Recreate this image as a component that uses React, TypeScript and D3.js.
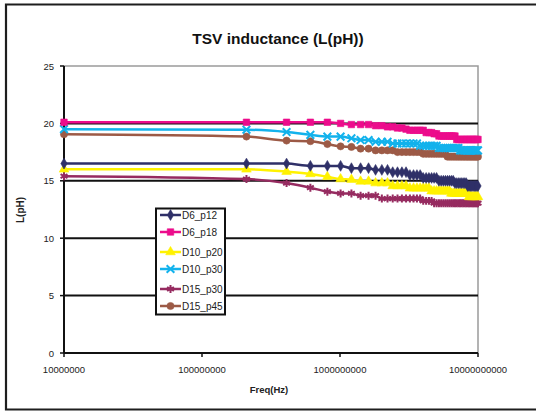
import React, { useEffect, useRef } from 'react';
import * as d3 from 'd3';

// sweep frequencies, MHz
const FREQ_MHZ = [
  10, 210, 410, 610, 810, 1010, 1210, 1410, 1610, 1810,
  2010, 2210, 2410, 2610, 2810, 3010, 3210, 3410, 3610, 3810,
  4010, 4210, 4410, 4610, 4810, 5010, 5210, 5410, 5610, 5810,
  6010, 6210, 6410, 6610, 6810, 7010, 7210, 7410, 7610, 7810,
  8010, 8210, 8410, 8610, 8810, 9010, 9210, 9410, 9610, 9810, 10000,
];

const D6_P12 = [
  16.5, 16.5, 16.5, 16.3, 16.3, 16.3, 16.1, 16.1, 16.1, 15.95,
  15.95, 15.95, 15.75, 15.75, 15.75, 15.75, 15.5, 15.5, 15.5, 15.5,
  15.25, 15.25, 15.25, 15.25, 15.25, 15.25, 15.0, 15.0, 15.0, 15.0,
  15.0, 15.0, 15.0, 15.0, 14.8, 14.8, 14.8, 14.8, 14.8, 14.8,
  14.8, 14.8, 14.55, 14.55, 14.55, 14.55, 14.55, 14.55, 14.55, 14.55, 14.55,
];

const D6_P18 = [
  20.1, 20.1, 20.1, 20.1, 20.1, 20.0, 19.9, 19.9, 19.9, 19.8,
  19.8, 19.7, 19.7, 19.6, 19.6, 19.5, 19.4, 19.4, 19.4, 19.4,
  19.4, 19.2, 19.2, 19.2, 19.1, 19.1, 18.9, 18.9, 18.9, 18.9,
  18.9, 18.9, 18.9, 18.9, 18.9, 18.6, 18.6, 18.6, 18.6, 18.6,
  18.6, 18.6, 18.6, 18.6, 18.6, 18.6, 18.6, 18.6, 18.6, 18.6, 18.6,
];

const D10_P20 = [
  16.0, 16.0, 15.8, 15.6, 15.35, 15.15, 15.1, 14.95, 14.95, 14.8,
  14.8, 14.8, 14.55, 14.55, 14.55, 14.55, 14.35, 14.35, 14.35, 14.35,
  14.35, 14.35, 14.35, 14.1, 14.1, 14.1, 14.1, 14.1, 14.1, 14.1,
  14.1, 14.1, 13.9, 13.9, 13.9, 13.9, 13.9, 13.9, 13.9, 13.9,
  13.9, 13.9, 13.9, 13.6, 13.6, 13.6, 13.6, 13.6, 13.6, 13.6, 13.6,
];

const D10_P30 = [
  19.5, 19.45, 19.25, 19.0, 18.85, 18.85, 18.7, 18.55, 18.55, 18.4,
  18.4, 18.4, 18.25, 18.25, 18.25, 18.25, 18.25, 18.25, 18.25, 18.05,
  18.05, 18.05, 18.05, 18.05, 18.05, 18.05, 17.85, 17.85, 17.85, 17.85,
  17.85, 17.85, 17.85, 17.85, 17.85, 17.85, 17.85, 17.65, 17.65, 17.65,
  17.65, 17.65, 17.65, 17.65, 17.65, 17.65, 17.65, 17.65, 17.65, 17.65, 17.65,
];

const D15_P30 = [
  15.4, 15.15, 14.8, 14.4, 14.05, 13.9, 13.9, 13.7, 13.7, 13.7,
  13.45, 13.45, 13.45, 13.45, 13.45, 13.45, 13.45, 13.45, 13.45, 13.45,
  13.25, 13.25, 13.25, 13.25, 13.05, 13.05, 13.05, 13.05, 13.05, 13.05,
  13.05, 13.05, 13.05, 13.05, 13.05, 13.05, 13.05, 13.05, 13.05, 13.05,
  13.05, 13.05, 13.05, 13.05, 13.05, 13.05, 13.05, 13.05, 13.05, 13.05, 13.05,
];

const D15_P45 = [
  19.05, 18.85, 18.5, 18.45, 18.2, 18.0, 17.95, 17.8, 17.8, 17.65,
  17.65, 17.65, 17.65, 17.5, 17.5, 17.5, 17.5, 17.5, 17.5, 17.5,
  17.35, 17.35, 17.35, 17.35, 17.35, 17.35, 17.35, 17.35, 17.35, 17.35,
  17.1, 17.1, 17.1, 17.1, 17.1, 17.1, 17.1, 17.1, 17.1, 17.1,
  17.1, 17.1, 17.1, 17.1, 17.1, 17.1, 17.1, 17.1, 17.1, 17.1, 17.1,
];

const SERIES = [
  { name: 'D6_p12', values: D6_P12, color: '#2f3068', symbol: d3.symbolDiamond, size: 34, stroke: false },
  { name: 'D6_p18', values: D6_P18, color: '#ec0c8c', symbol: d3.symbolSquare, size: 42, stroke: false },
  { name: 'D10_p20', values: D10_P20, color: '#fff200', symbol: d3.symbolTriangle, size: 40, stroke: false },
  { name: 'D10_p30', values: D10_P30, color: '#12b2ec', symbol: d3.symbolX, size: 40, stroke: true },
  { name: 'D15_p30', values: D15_P30, color: '#962b60', symbol: d3.symbolAsterisk, size: 44, stroke: true },
  { name: 'D15_p45', values: D15_P45, color: '#9c5a46', symbol: d3.symbolCircle, size: 40, stroke: false },
];

const Y_TICKS = [0, 5, 10, 15, 20, 25];
const X_TICKS = [1e7, 1e8, 1e9, 1e10];
const LEGEND_Y = [215, 232, 252, 269, 289, 306];

export default function App() {
  const ref = useRef<SVGSVGElement>(null);

  useEffect(() => {
    const svg = d3.select(ref.current);
    svg.selectAll('*').remove();

    const x = d3.scaleLog().domain([1e7, 1e10]).range([64, 478]);
    const y = d3.scaleLinear().domain([0, 25]).range([353, 66]);
    const font = 'Arial, "Liberation Sans", sans-serif';

    // outer frame (right side runs off the picture)
    svg.append('path')
      .attr('d', 'M600,4.5H6V409.5H600')
      .attr('fill', 'none')
      .attr('stroke', '#1e1e1e')
      .attr('stroke-width', 2.2);

    // title
    svg.append('text')
      .attr('x', 278).attr('y', 44)
      .attr('text-anchor', 'middle')
      .attr('font-family', font).attr('font-weight', 'bold').attr('font-size', '15.5px')
      .attr('fill', '#111')
      .text('TSV inductance (L(pH))');

    // plot frame, gray top + right
    svg.append('path')
      .attr('d', `M${x(1e7)},${y(25)}H${x(1e10)}V${y(0)}`)
      .attr('fill', 'none').attr('stroke', '#9a9a9a').attr('stroke-width', 1.5);

    // gridlines
    svg.append('g').selectAll('line')
      .data(Y_TICKS.filter(t => t > 0 && t < 25))
      .join('line')
      .attr('x1', x(1e7)).attr('x2', x(1e10))
      .attr('y1', d => y(d)).attr('y2', d => y(d))
      .attr('stroke', '#111').attr('stroke-width', 2);

    // axes lines
    svg.append('line')
      .attr('x1', x(1e7)).attr('x2', x(1e7)).attr('y1', y(25)).attr('y2', y(0))
      .attr('stroke', '#111').attr('stroke-width', 2);
    svg.append('line')
      .attr('x1', x(1e7)).attr('x2', x(1e10)).attr('y1', y(0)).attr('y2', y(0))
      .attr('stroke', '#111').attr('stroke-width', 2);

    // y ticks
    const yt = svg.append('g');
    yt.selectAll('line').data(Y_TICKS).join('line')
      .attr('x1', x(1e7) - 4).attr('x2', x(1e7))
      .attr('y1', d => y(d)).attr('y2', d => y(d))
      .attr('stroke', '#111').attr('stroke-width', 1.5);
    yt.selectAll('text').data(Y_TICKS).join('text')
      .attr('x', 54).attr('y', d => y(d) + 3.5)
      .attr('text-anchor', 'end')
      .attr('font-family', font).attr('font-size', '9.5px').attr('fill', '#222')
      .text(d => String(d));

    // x ticks
    const xt = svg.append('g');
    xt.selectAll('line').data(X_TICKS).join('line')
      .attr('x1', d => x(d)).attr('x2', d => x(d))
      .attr('y1', y(0)).attr('y2', y(0) + 4)
      .attr('stroke', '#111').attr('stroke-width', 1.5);
    xt.selectAll('text').data(X_TICKS).join('text')
      .attr('x', d => x(d)).attr('y', 373)
      .attr('text-anchor', 'middle')
      .attr('font-family', font).attr('font-size', '9.5px').attr('fill', '#222')
      .text(d => String(d));

    // axis titles
    svg.append('text')
      .attr('x', 269).attr('y', 393)
      .attr('text-anchor', 'middle')
      .attr('font-family', font).attr('font-weight', 'bold').attr('font-size', '9.5px').attr('fill', '#222')
      .text('Freq(Hz)');
    svg.append('text')
      .attr('transform', 'translate(24,210) rotate(-90)')
      .attr('text-anchor', 'middle')
      .attr('font-family', font).attr('font-weight', 'bold').attr('font-size', '10px').attr('fill', '#222')
      .text('L(pH)');

    const line = d3.line<number>()
      .x((_, i) => x(FREQ_MHZ[i] * 1e6))
      .y(d => y(d))
      .curve(d3.curveMonotoneX);

    const drawMarker = (g: any, s: any, cx: number, cy: number) => {
      const p = g.append('path')
        .attr('d', d3.symbol().type(s.symbol).size(s.size)())
        .attr('transform', `translate(${cx},${cy})`);
      if (s.stroke) p.attr('fill', 'none').attr('stroke', s.color).attr('stroke-width', 2);
      else p.attr('fill', s.color).attr('stroke', s.color).attr('stroke-width', 0.6);
    };

    // series (draw back-to-front like Excel)
    const order = [5, 4, 3, 2, 1, 0];
    order.forEach(k => {
      const s = SERIES[k];
      const g = svg.append('g');
      g.append('path')
        .attr('d', line(s.values))
        .attr('fill', 'none')
        .attr('stroke', s.color)
        .attr('stroke-width', 2.5);
      s.values.forEach((v, i) => drawMarker(g, s, x(FREQ_MHZ[i] * 1e6), y(v)));
    });

    // legend
    const lg = svg.append('g');
    lg.append('rect')
      .attr('x', 156).attr('y', 208.5).attr('width', 69).attr('height', 106)
      .attr('fill', '#fff').attr('stroke', '#111').attr('stroke-width', 2);
    SERIES.forEach((s, i) => {
      const ly = LEGEND_Y[i];
      lg.append('line')
        .attr('x1', 160).attr('x2', 181).attr('y1', ly).attr('y2', ly)
        .attr('stroke', s.color).attr('stroke-width', 2.5);
      drawMarker(lg, s, 170.5, ly);
      lg.append('text')
        .attr('x', 182).attr('y', ly + 3.5)
        .attr('font-family', font).attr('font-size', '10px').attr('fill', '#222')
        .text(s.name);
    });
  }, []);

  return (
    <svg
      ref={ref}
      width={536}
      height={414}
      style={{ position: 'absolute', left: 0, top: 0, background: '#fff' }}
    />
  );
}
